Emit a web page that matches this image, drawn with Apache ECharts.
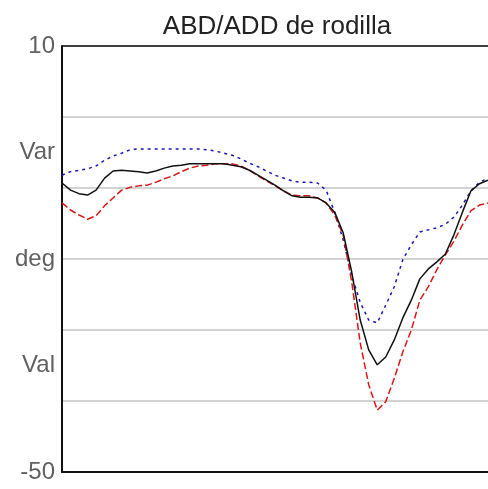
<!DOCTYPE html>
<html>
<head>
<meta charset="utf-8">
<script src="https://cdn.jsdelivr.net/npm/echarts@6/dist/echarts.min.js"></script>
<style>html,body{margin:0;padding:0;background:#fff;}#c{width:488px;height:489px;}</style>
</head>
<body>
<div id="c"></div>
<script>
// % of gait cycle
var cycle = [0,2,4,6,8,10,12,14,16,18,20,22,24,26,28,30,32,34,36,38,40,42,44,46,48,50,52,54,56,58,60,62,64,66,68,70,72,74,76,78,80,82,84,86,88,90,92,94,96,98,100];
var meanCurve = [-9.3,-10.3,-10.8,-11.0,-10.3,-8.6,-7.6,-7.5,-7.6,-7.7,-7.9,-7.6,-7.2,-6.9,-6.8,-6.6,-6.6,-6.6,-6.6,-6.6,-6.8,-7.0,-7.5,-8.2,-8.9,-9.6,-10.4,-11.1,-11.3,-11.3,-11.4,-12.1,-13.4,-16.3,-21.8,-28.6,-32.8,-34.9,-33.8,-31.4,-28.3,-25.8,-22.8,-21.4,-20.4,-19.3,-16.6,-13.4,-10.4,-9.4,-8.9];
var upperCurve = [-8.2,-7.7,-7.5,-7.3,-6.9,-6.1,-5.5,-5.1,-4.6,-4.5,-4.5,-4.5,-4.5,-4.5,-4.5,-4.5,-4.5,-4.6,-4.8,-5.1,-5.4,-5.9,-6.5,-7.0,-7.6,-8.2,-8.6,-9.0,-9.2,-9.2,-9.3,-10.3,-13.4,-17.3,-22.3,-26.1,-28.6,-29.0,-26.5,-23.9,-20.1,-18.0,-16.2,-15.9,-15.6,-15.1,-14.1,-12.4,-10.4,-9.2,-8.6];
var lowerCurve = [-12.1,-13.1,-13.8,-14.4,-13.9,-12.5,-11.4,-10.3,-9.9,-9.7,-9.6,-9.2,-8.7,-8.3,-7.7,-7.2,-6.9,-6.8,-6.6,-6.6,-6.6,-6.9,-7.5,-8.3,-9.0,-9.7,-10.4,-11.0,-11.1,-11.1,-11.4,-12.1,-13.8,-16.6,-23.2,-31.8,-37.7,-41.3,-40.1,-36.8,-33.1,-30.0,-25.8,-23.9,-21.5,-19.4,-17.5,-15.2,-13.2,-12.4,-12.1];
var yTickLabels = {"10":"10","-5":"Var","-20":"deg","-35":"Val","-50":"-50"};
var titleText = "ABD/ADD de rodilla";

function pairs(arr){ return cycle.map(function(x,i){ return [x, arr[i]]; }); }

var chart = echarts.init(document.getElementById('c'), null, {renderer:'canvas'});
chart.setOption({
  animation:false,
  backgroundColor:'#fff',
  title:{text:titleText, left:272, textAlign:'center', top:9,
    textStyle:{fontFamily:'Liberation Sans, Arial, sans-serif', fontSize:26, fontWeight:'normal', color:'#222'}},
  grid:{left:62, right:0, top:46, bottom:17},
  xAxis:[
    {type:'value', min:0, max:100, position:'bottom',
     axisLine:{show:true, onZero:false, lineStyle:{color:'#111', width:2}},
     axisTick:{show:false}, axisLabel:{show:false}, splitLine:{show:false}},
    {type:'value', min:0, max:100, position:'top',
     axisLine:{show:true, onZero:false, lineStyle:{color:'#111', width:1.5}},
     axisTick:{show:false}, axisLabel:{show:false}, splitLine:{show:false}}
  ],
  yAxis:[
    {type:'value', min:-50, max:10, interval:5, position:'left',
     axisLine:{show:true, onZero:false, lineStyle:{color:'#111', width:2}},
     axisTick:{show:false},
     axisLabel:{show:true, margin:7, color:'#606060', fontSize:24, fontFamily:'Liberation Sans, Arial, sans-serif',
       formatter:function(v){ var k=String(Math.round(v)); return yTickLabels[k]!==undefined?yTickLabels[k]:''; }},
     splitLine:{show:false}},
    {type:'value', min:-50, max:10, interval:10, position:'right',
     axisLine:{show:false}, axisTick:{show:false}, axisLabel:{show:false},
     splitLine:{show:true, lineStyle:{color:'#c4c4c4', width:1.5}}}
  ],
  series:[
    {type:'line', data:pairs(upperCurve), symbol:'none', smooth:false, yAxisIndex:0,
     lineStyle:{color:'#1a1ab0', width:1.5, type:[3,4]}},
    {type:'line', data:pairs(lowerCurve), symbol:'none', smooth:false, yAxisIndex:0,
     lineStyle:{color:'#d81818', width:1.5, type:[7,3]}},
    {type:'line', data:pairs(meanCurve), symbol:'none', smooth:false, yAxisIndex:0,
     lineStyle:{color:'#111', width:1.5}}
  ]
});
</script>
</body>
</html>
